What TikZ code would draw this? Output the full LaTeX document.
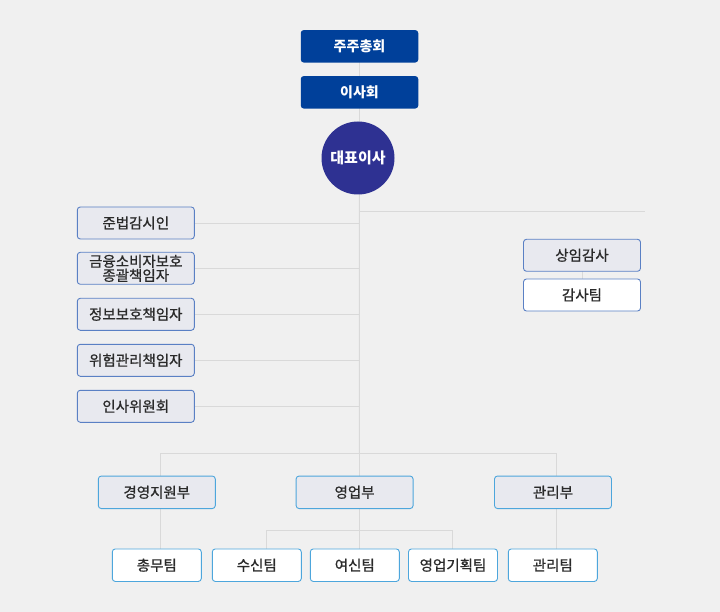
\documentclass[tikz,border=0pt]{standalone}
\usepackage{fontspec}
\setmainfont{Noto Sans CJK KR}
\newfontfamily\medfont{Noto Sans CJK KR}[FakeBold=0.9]
\usetikzlibrary{backgrounds}
\definecolor{bg}{HTML}{F0F0F0}
\definecolor{navy}{HTML}{00409A}
\definecolor{ceoc}{HTML}{2E3192}
\definecolor{grayfill}{HTML}{E8E9EF}
\definecolor{bordA}{HTML}{5A80C4}
\definecolor{bordB}{HTML}{4DA6DC}
\definecolor{linec}{HTML}{D9D9D9}
\definecolor{txt}{HTML}{2A2A2A}
\tikzset{
  topbox/.style={rectangle, rounded corners=3pt, fill=navy, text=white, font=\fontsize{14}{14}\selectfont\bfseries, minimum width=117.5pt, minimum height=32.5pt, inner sep=0pt},
  ceobox/.style={circle, fill=ceoc, text=white, font=\fontsize{15}{15}\selectfont\bfseries, minimum size=73pt, inner sep=0pt},
  sidebox/.style={rectangle, rounded corners=3pt, draw=bordA, line width=0.9pt, fill=grayfill, text=txt, font=\medfont\fontsize{14.5}{13}\selectfont, minimum width=117pt, minimum height=32pt, inner sep=0pt, align=center},
  sidewhite/.style={sidebox, fill=white},
  deptbox/.style={rectangle, rounded corners=3pt, draw=bordB, line width=0.9pt, fill=grayfill, text=txt, font=\medfont\fontsize{14.5}{14}\selectfont, minimum width=117pt, minimum height=32.5pt, inner sep=0pt},
  teambox/.style={deptbox, fill=white, minimum width=89pt},
  conn/.style={draw=linec, line width=0.9pt}
}
\begin{document}
\begin{tikzpicture}[x=1pt,y=-1pt]
\useasboundingbox (0,0) rectangle (720,612);
% top
\node[topbox] (gm) at (359.5,46.3) {주주총회};
\node[topbox] (board) at (359.5,92.3) {이사회};
\node[ceobox] (ceo) at (358,158) {대표이사};
% left
\node[sidebox] (l1) at (135.8,223) {준법감시인};
\node[sidebox] (l2) at (135.8,268.3) {금융소비자보호\\종괄책임자};
\node[sidebox] (l3) at (135.8,314.3) {정보보호책임자};
\node[sidebox] (l4) at (135.8,360.3) {위험관리책임자};
\node[sidebox] (l5) at (135.8,406.3) {인사위원회};
% right
\node[sidebox] (aud) at (582,255.3) {상임감사};
\node[sidewhite] (audt) at (582,295) {감사팀};
% depts
\node[deptbox] (d1) at (156.8,492.3) {경영지원부};
\node[deptbox] (d2) at (354.6,492.3) {영업부};
\node[deptbox] (d3) at (553,492.3) {관리부};
% teams
\node[teambox] (t1) at (156.8,565.2) {총무팀};
\node[teambox] (t2) at (256.8,565.2) {수신팀};
\node[teambox] (t3) at (354.8,565.2) {여신팀};
\node[teambox] (t4) at (453,565.2) {영업기획팀};
\node[teambox] (t5) at (552.8,565.2) {관리팀};
% coordinates
\coordinate (hub) at (359.3,453.5);
\coordinate (rb) at (359.3,211.5);
\coordinate (rbend) at (645,211.5);
\coordinate (hl) at (160.5,453.5);
\coordinate (hr) at (556.5,453.5);
\coordinate (s1) at (266,530);
\coordinate (s2) at (452.5,530);
\begin{scope}[on background layer]
\fill[bg] (0,0) rectangle (720,612);
\draw[conn] (gm.center) -- (hub);
\draw[conn] (rb) -- (rbend);
\foreach \n in {l1,l2,l3,l4,l5} \draw[conn] (\n.east) -- (\n -| hub);
\draw[conn] (aud.center) -- (audt.center);
\draw[conn] (hl |- t1.north) -- (hl) -- (hr) -- (hr |- t5.north);
\draw[conn] (hub) -- (hub |- t3.north);
\draw[conn] (s1 |- t2.north) -- (s1) -- (s2) -- (s2 |- t4.north);
\end{scope}
\end{tikzpicture}
\end{document}
